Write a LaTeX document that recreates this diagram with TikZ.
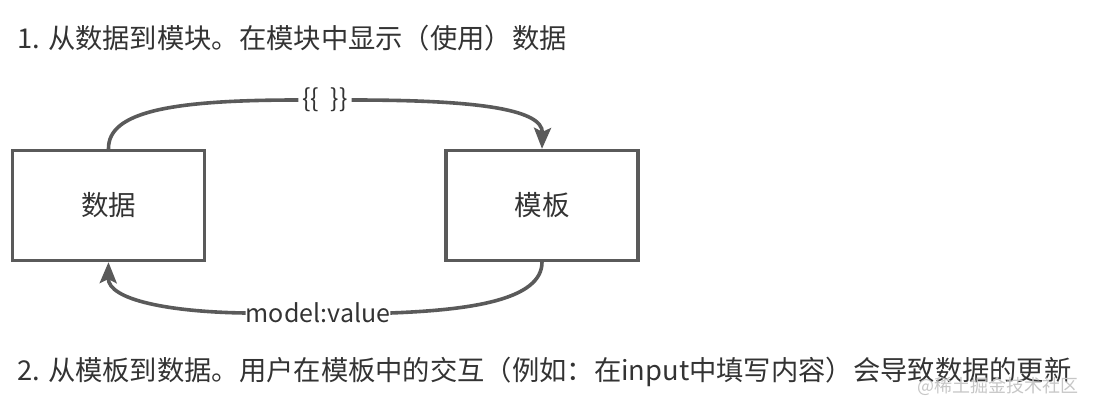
\documentclass[tikz,border=0pt]{standalone}
\usepackage{fontspec}
\setmainfont{Noto Sans CJK SC}
\usepackage{xcolor}
\usepackage{tikz}
\usetikzlibrary{arrows.meta}
\definecolor{linegray}{HTML}{5A5A5A}
\definecolor{textgray}{HTML}{333333}
\tikzset{
  box/.style={draw=linegray, line width=3.3pt, minimum width=192pt, minimum height=110pt, text=textgray, font=\fontsize{27.5}{32}\selectfont},
  flow/.style={draw=linegray, line width=3.6pt},
  tip/.style={-{Stealth[length=21pt, width=17pt, inset=4pt]}},
  lbl/.style={text=textgray, inner sep=1pt, font=\fontsize{25}{30}\selectfont},
  line/.style={anchor=west, text=textgray, inner sep=0pt, font=\fontsize{27.3}{32}\selectfont}
}
\begin{document}
\begin{tikzpicture}[x=1pt, y=-1pt]
\useasboundingbox (0,0) rectangle (1094,412);
\node[line] (Title) at (17,38) {1. 从数据到模块。在模块中显示（使用）数据};
\node[box] (Data) at (108.5,205.5) {数据};
\node[box] (Tmpl) at (542,205.5) {模板};
\node[lbl, inner sep=4pt] (Bind) at (325,100) {\{\{\ \ \}\}};
\node[lbl, inner sep=0pt] (Model) at (318,313) {model:value};
\draw[flow] (Data.north) .. controls (108,112) and (170,100) .. (Bind.west);
\draw[flow, tip] (Bind.east) .. controls (470,100) and (543,108) .. (Tmpl.north);
\draw[flow] (Tmpl.south) .. controls (542,300) and (470,310) .. (Model.east);
\draw[flow, tip] (Model.west) .. controls (170,312) and (108,300) .. (Data.south);
\node[line] (Note) at (17,372) {2. 从模板到数据。用户在模板中的交互（例如：在input中填写内容）会导致数据的更新};
\node[anchor=east, text=gray!45, font=\fontsize{18}{20}\selectfont] (Mark) at (1082,386) {@稀土掘金技术社区};
\end{tikzpicture}
\end{document}
